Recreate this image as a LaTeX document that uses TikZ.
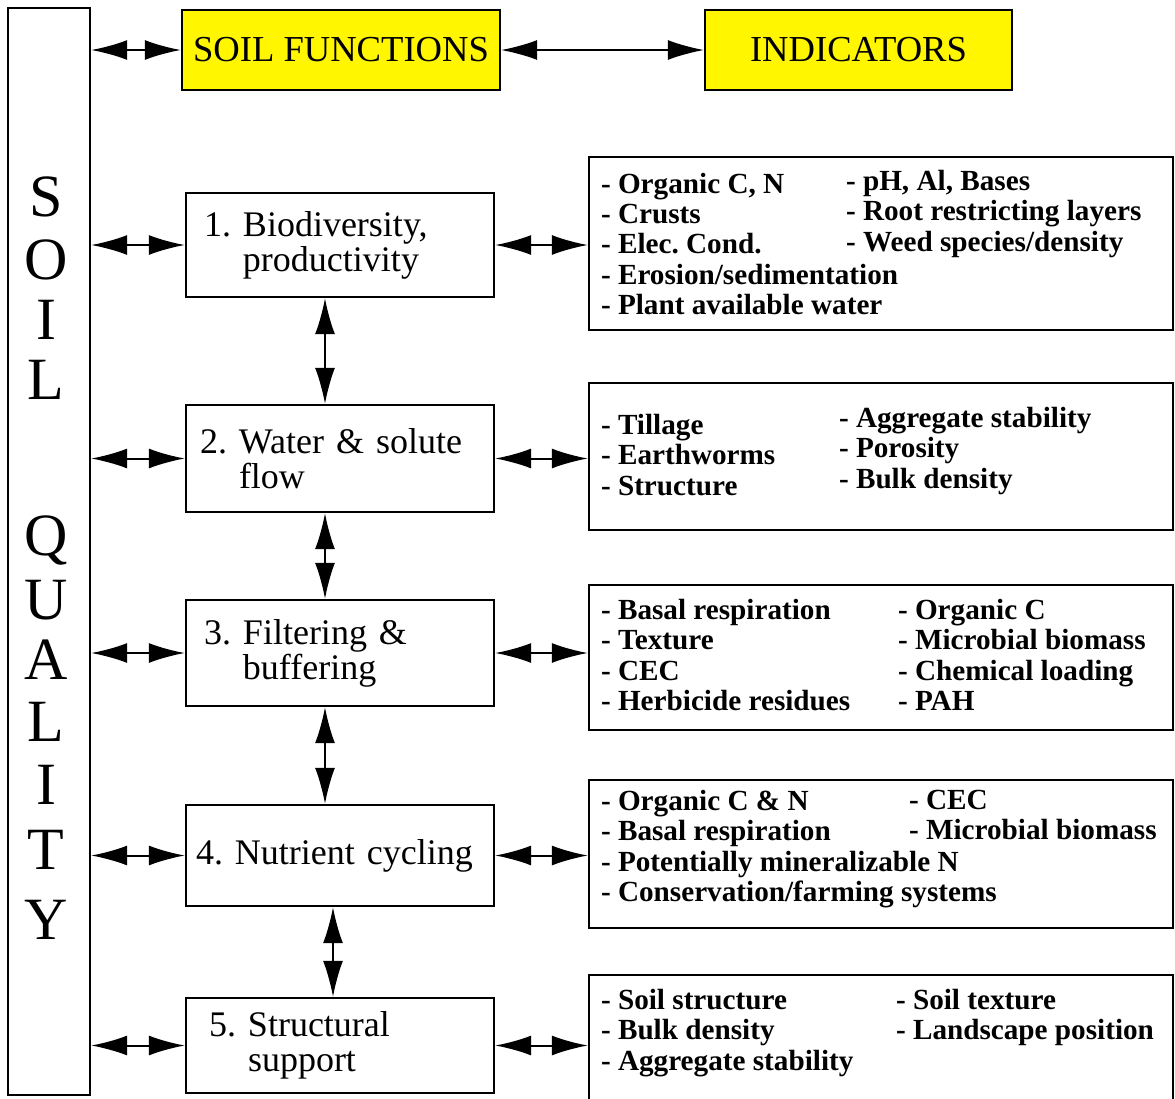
\documentclass[tikz,border=0pt]{standalone}
\usepackage{fontspec}
\setmainfont{Liberation Serif}
\usetikzlibrary{arrows.meta}
\definecolor{marker}{RGB}{255,246,0}
\frenchspacing

\begin{document}
\begin{tikzpicture}[x=0.5pt, y=-0.5pt, >={Latex[length=18pt,width=10pt]}, line width=1pt]
    \tikzstyle{boxline} = [draw, line width=1.2pt, rectangle, inner sep=0pt]
    \tikzstyle{header} = [boxline, fill=marker, minimum height=40pt,
    font=\fontsize{18.3}{17.5}\selectfont]
    \tikzstyle{block} = [boxline, minimum width=154pt, text width=136pt,
    inner xsep=9pt, align=left, font=\fontsize{18}{17.5}\selectfont]
    \tikzstyle{indbox} = [boxline, minimum width=292pt]
    \tikzstyle{itemtext} = [anchor=west, inner sep=0pt, align=left,
    font=\fontsize{14.6}{15.2}\selectfont\bfseries]
    \tikzstyle{qletter} = [inner sep=0pt, font=\fontsize{30}{30}\selectfont]

    \useasboundingbox (0,0) rectangle (1175,1099);
    \clip (0,0) rectangle (1175,1099);

    \node [boxline, minimum width=41pt, minimum height=543.5pt] (quality) at (49,551.5) {};
    \foreach \qchar/\y in {S/197,O/260,I/320,L/380,Q/540,U/600,A/660,L/722,I/785,T/850,Y/920}
        \node [qletter] (q\y) at (46,\y) {\qchar};

    \node [header, minimum width=159pt] (functions) at (341,50) {SOIL FUNCTIONS};
    \node [header, minimum width=153.5pt] (indicators) at (858.5,50) {INDICATORS};

    \node [block, minimum height=52pt] (biodiv) at (340,245) {1. Biodiversity,\\\phantom{1. }productivity};
    \node [block, minimum height=53.5pt, text width=140pt, inner xsep=7pt] (water) at (340,458.5) {2. Water \& solute\\\phantom{2. }flow};
    \node [block, minimum height=53pt] (filter) at (340,653) {3. Filtering \&\\\phantom{3. }buffering};
    \node [block, minimum height=50.5pt, text width=144pt, inner xsep=5pt] (nutrient) at (340,855.5) {4. Nutrient cycling};
    \node [block, minimum height=47.5pt, text width=131pt, inner xsep=11.5pt] (support) at (340,1045.5) {5. Structural\\\phantom{5. }support};

    \node [indbox, minimum height=86.5pt] (ind1) at (881,243.5) {};
    \node [indbox, minimum height=73.5pt] (ind2) at (881,456.5) {};
    \node [indbox, minimum height=72.5pt] (ind3) at (881,657.5) {};
    \node [indbox, minimum height=74pt] (ind4) at (881,854) {};
    \node [indbox, minimum height=67.5pt] (ind5) at (881,1042.5) {};

    \node [itemtext] (ind1a) at (600,244) {- Organic C, N\\- Crusts\\- Elec. Cond.\\- Erosion/sedimentation\\- Plant available water};
    \node [itemtext] (ind1b) at (845,214) {- pH, Al, Bases\\- Root restricting layers\\- Weed species/density};
    \node [itemtext] (ind2a) at (600,455) {- Tillage\\- Earthworms\\- Structure};
    \node [itemtext] (ind2b) at (838,451) {- Aggregate stability\\- Porosity\\- Bulk density};
    \node [itemtext] (ind3a) at (600,655) {- Basal respiration\\- Texture\\- CEC\\- Herbicide residues};
    \node [itemtext] (ind3b) at (897,655) {- Organic C\\- Microbial biomass\\- Chemical loading\\- PAH};
    \node [itemtext] (ind4a) at (600,849) {- Organic C \& N\\- Basal respiration\\- Potentially mineralizable N\\- Conservation/farming systems};
    \node [itemtext] (ind4b) at (908,815) {- CEC\\- Microbial biomass};
    \node [itemtext] (ind5a) at (600,1033) {- Soil structure\\- Bulk density\\- Aggregate stability};
    \node [itemtext] (ind5b) at (895,1017.5) {- Soil texture\\- Landscape position};

    \draw [<->] (quality.east |- functions) -- (functions);
    \draw [<->, line width=0.8pt] (functions) -- (indicators);
    \draw [<->] (quality.east |- biodiv) -- (biodiv);
    \draw [<->] (quality.east |- water) -- (water);
    \draw [<->] (quality.east |- filter) -- (filter);
    \draw [<->] (quality.east |- nutrient) -- (nutrient);
    \draw [<->] (quality.east |- support) -- (support);
    \draw [<->] (biodiv) -- (biodiv -| ind1.west);
    \draw [<->] (water) -- (water -| ind2.west);
    \draw [<->] (filter) -- (filter -| ind3.west);
    \draw [<->] (nutrient) -- (nutrient -| ind4.west);
    \draw [<->] (support) -- (support -| ind5.west);
    \draw [<->, line width=0.8pt] ([xshift=-7.5pt]biodiv.south) -- ([xshift=-7.5pt]water.north);
    \draw [<->, line width=0.8pt] ([xshift=-7.5pt]water.south) -- ([xshift=-7.5pt]filter.north);
    \draw [<->, line width=0.8pt] ([xshift=-7.5pt]filter.south) -- ([xshift=-7.5pt]nutrient.north);
    \draw [<->, line width=0.8pt] ([xshift=-3.5pt]nutrient.south) -- ([xshift=-3.5pt]support.north);
\end{tikzpicture}
\end{document}
